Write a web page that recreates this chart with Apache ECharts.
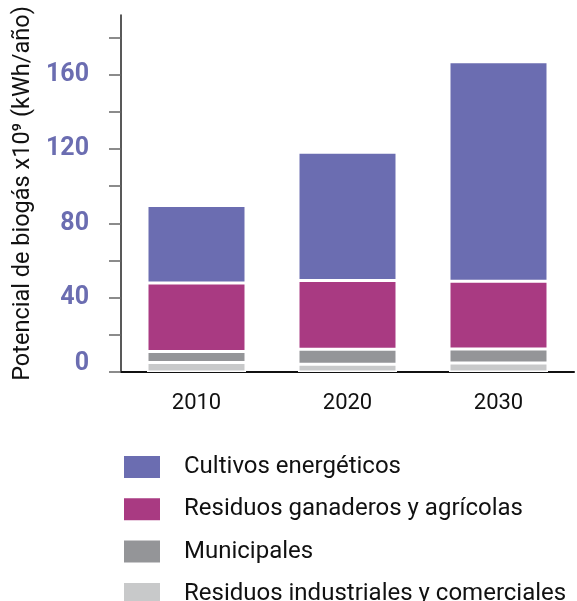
<!DOCTYPE html>
<html>
<head>
<meta charset="utf-8">
<script src="https://cdn.jsdelivr.net/npm/echarts@6/dist/echarts.min.js"></script>
<style>html,body{margin:0;padding:0;background:#fff}#c{width:577px;height:601px}</style>
</head>
<body>
<div id="c"></div>
<script>
const categories = ['2010', '2020', '2030'];
const seriesNames = ['Cultivos energéticos', 'Residuos ganaderos y agrícolas', 'Municipales', 'Residuos industriales y comerciales'];
const industriales = [5.1, 4.2, 4.8];
const municipales = [5.9, 8.0, 7.6];
const ganaderos = [36.8, 37.0, 36.4];
const cultivos = [41.7, 69.0, 118.0];
const tickValues = [0, 20, 40, 60, 80, 100, 120, 140, 160, 180];
const labelValues = [0, 40, 80, 120, 160];
const colors = ['#6b6db1', '#a93a82', '#949598', '#c8c9ca'];

const chart = echarts.init(document.getElementById('c'), null, {renderer: 'canvas'});
const mk = (name, data, color) => ({
  name, type: 'bar', stack: 'total', data, barWidth: 99,
  itemStyle: {color, borderColor: '#ffffff', borderWidth: 1.5},
  emphasis: {disabled: true}
});
chart.setOption({
  animation: false,
  grid: {left: 121, top: 15, right: 3, bottom: 229, containLabel: false, outerBoundsMode: 'none'},
  legend: {
    orient: 'vertical', left: 122, top: 454, padding: 0,
    width: 455, height: 180,
    itemWidth: 38, itemHeight: 24, itemGap: 16.3,
    icon: 'rect',
    data: seriesNames,
    selectedMode: false,
    textStyle: {fontFamily: 'Roboto', fontSize: 24, lineHeight: 24, color: '#111', padding: [0, 0, 0, 18]}
  },
  xAxis: {
    type: 'category', data: categories,
    axisLine: {lineStyle: {color: '#111', width: 2}},
    axisTick: {show: false},
    axisLabel: {fontFamily: 'Roboto', fontSize: 22, color: '#111', margin: 20}
  },
  yAxis: {
    type: 'value', min: 0, max: 192, interval: 20,
    name: 'Potencial de biogás x10⁹ (kWh/año)',
    nameLocation: 'middle', nameGap: 86, nameRotate: 90,
    nameTextStyle: {fontFamily: 'Roboto', fontSize: 23.5, color: '#111'},
    splitLine: {show: false},
    axisLine: {show: true, lineStyle: {color: '#222', width: 1.5}},
    axisTick: {show: true, length: 12, customValues: tickValues, lineStyle: {color: '#666', width: 1.5}},
    axisLabel: {
      customValues: labelValues,
      margin: 32,
      formatter: v => v === 0 ? '{z|0}' : '{a|' + v + '}',
      rich: {
        a: {fontFamily: 'Roboto', fontSize: 25, fontWeight: 'bold', color: '#6b6db1'},
        z: {fontFamily: 'Roboto', fontSize: 25, fontWeight: 'bold', color: '#6b6db1', padding: [0, 0, 16, 0]}
      }
    }
  },
  series: [
    mk(seriesNames[3], industriales, colors[3]),
    mk(seriesNames[2], municipales, colors[2]),
    mk(seriesNames[1], ganaderos, colors[1]),
    mk(seriesNames[0], cultivos, colors[0])
  ]
});
</script>
</body>
</html>
